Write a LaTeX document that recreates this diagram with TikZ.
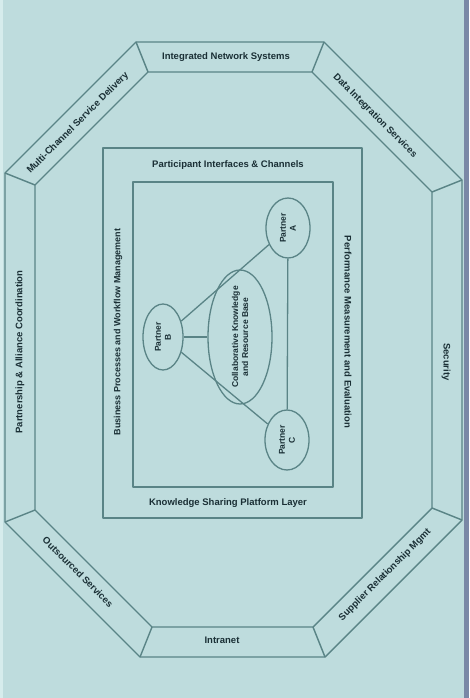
\documentclass[tikz,border=0pt]{standalone}
\usepackage{fontspec}
\setmainfont{Liberation Sans}
\usetikzlibrary{shapes.geometric}
\definecolor{bg}{HTML}{BEDCDD}
\definecolor{ln}{HTML}{5A8486}
\definecolor{tx}{HTML}{1A2F35}
\definecolor{edgec}{HTML}{7A88A6}
\definecolor{lite}{HTML}{D6ECEC}
\begin{document}
\begin{tikzpicture}[x=1pt,y=-1pt,
  lbl/.style={text=tx,font=\bfseries\fontsize{9.5}{11}\selectfont,inner sep=1pt},
  ring/.style={draw=ln,line width=1.4pt,line join=round},
  ell/.style={ellipse,draw=ln,line width=1.3pt,text=tx,font=\bfseries\fontsize{8.5}{10}\selectfont,align=center,inner sep=0pt},
  conn/.style={draw=ln,line width=1.3pt}]
\fill[bg] (0,0) rectangle (469,698);
\useasboundingbox (0,0) rectangle (469,698);
\fill[lite] (0,0) rectangle (3,698);
\fill[edgec] (464,0) rectangle (469,698);
% octagon vertices
\coordinate (o1) at (136,42);  \coordinate (o2) at (324,42);
\coordinate (o3) at (462,180); \coordinate (o4) at (462,520);
\coordinate (o5) at (325,657); \coordinate (o6) at (140,657);
\coordinate (o7) at (5,522);   \coordinate (o8) at (5,173);
\coordinate (i1) at (148,72);  \coordinate (i2) at (312,72);
\coordinate (i3) at (432,192); \coordinate (i4) at (432,508);
\coordinate (i5) at (313,627); \coordinate (i6) at (152,627);
\coordinate (i7) at (35,510);  \coordinate (i8) at (35,185);
\draw[ring] (o1)--(o2)--(o3)--(o4)--(o5)--(o6)--(o7)--(o8)--cycle;
\draw[ring] (i1)--(i2)--(i3)--(i4)--(i5)--(i6)--(i7)--(i8)--cycle;
\foreach \k in {1,...,8}{\draw[ring] (o\k)--(i\k);}
% ring labels
\node[lbl] (t1) at (226,57) {Integrated Network Systems};
\node[lbl,rotate=45] (t2) at (78,123) {Multi-Channel Service Delivery};
\node[lbl,rotate=-45] (t3) at (375,116) {Data Integration Services};
\node[lbl,rotate=-90] (t4) at (446,362) {Security};
\node[lbl,rotate=45] (t5) at (385,575) {Supplier Relationship Mgmt};
\node[lbl] (t6) at (222,640) {Intranet};
\node[lbl,rotate=-45] (t7) at (78,572) {Outsourced Services};
\node[lbl,rotate=90] (t8) at (20,352) {Partnership \& Alliance Coordination};
% inner frames
\draw[ring] (103,148) rectangle (362,518);
\draw[ring] (133,182) rectangle (333,487);
\node[lbl] (r1) at (228,165) {Participant Interfaces \& Channels};
\node[lbl] (r2) at (228,503) {Knowledge Sharing Platform Layer};
\node[lbl,rotate=90,font=\bfseries\fontsize{9}{11}\selectfont] (r3) at (118,332) {Business Processes and Workflow Management};
\node[lbl,rotate=-90] (r4) at (348,332) {Performance Measurement and Evaluation};
% triangle
\node[ell,rotate=90,minimum width=60pt,minimum height=44pt] (pa) at (288,228) {Partner\\A};
\node[ell,rotate=90,minimum width=66pt,minimum height=40pt] (pb) at (163,337) {Partner\\B};
\node[ell,rotate=90,minimum width=60pt,minimum height=44pt] (pc) at (287,440) {Partner\\C};
\node[ell,rotate=90,minimum width=134pt,minimum height=64pt,inner sep=-8pt] (ctr) at (240,337) {Collaborative Knowledge\\and Resource Base};
\draw[conn] (pa) -- (pb);
\draw[conn] (pb) -- (pc);
\draw[conn] (pa) -- (pc);
\draw[conn] (pb) -- (ctr);
\end{tikzpicture}
\end{document}
